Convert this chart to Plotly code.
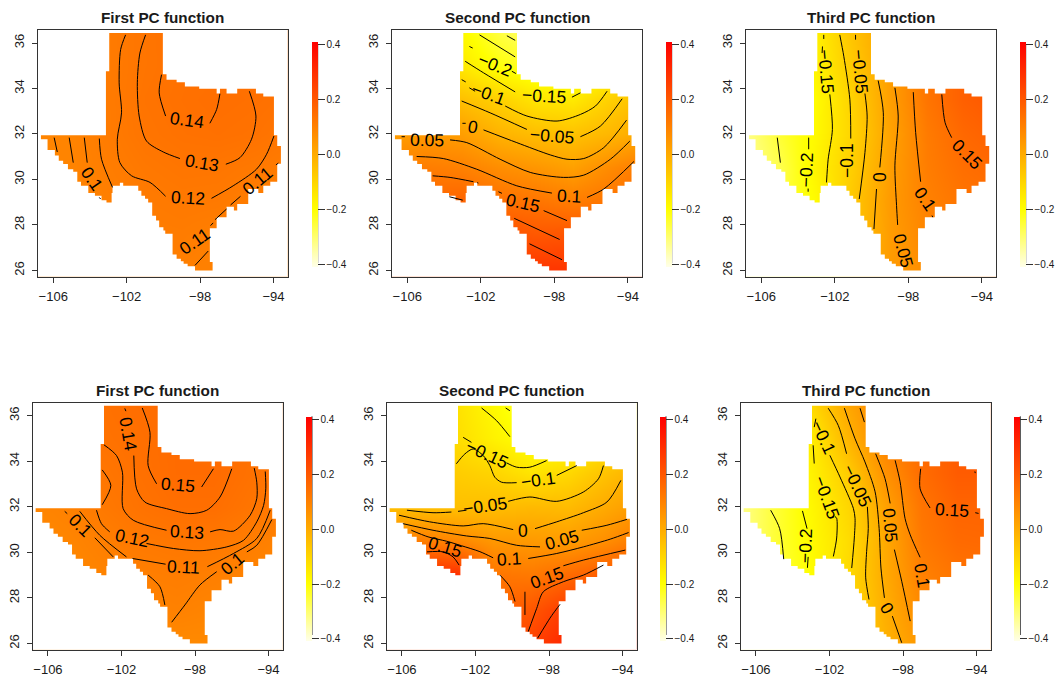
import plotly.graph_objects as go

# ---------- shared grid and ticks ----------
GRID_LON = [-107, -105, -103, -101, -99, -97, -95, -93]
GRID_LAT = [26, 27.5, 29, 30.5, 32, 33.5, 35, 36.5]
X_TICKS = [-106, -102, -98, -94]
Y_TICKS = [26, 28, 30, 32, 34, 36]
BAR_TICKS = [-0.4, -0.2, 0.0, 0.2, 0.4]
BAR_LABELS = ["\u22120.4", "\u22120.2", "0.0", "0.2", "0.4"]
TITLES = ["First PC function", "Second PC function", "Third PC function"] * 2

# Texas outline (lon, lat): walk clockwise, horizontal then vertical between vertices
TX_WALK = [(-102.95, 36.44), (-100.03, 34.63), (-99.83, 34.39), (-99.28, 34.28), (-98.83, 34.09),
           (-98.05, 33.99), (-97.1, 33.78), (-96.92, 33.99), (-96.56, 33.78), (-95.98, 33.99),
           (-94.96, 33.78), (-94.56, 33.65), (-93.98, 31.94), (-93.8, 31.47), (-93.6, 30.69),
           (-93.8, 29.90), (-94.18, 29.72), (-94.56, 29.40), (-94.83, 29.58), (-95.38, 28.92),
           (-95.98, 28.63), (-96.16, 28.80), (-96.56, 28.34), (-97.1, 28.23), (-97.1, 27.85),
           (-97.47, 26.37), (-97.32, 26.0), (-98.28, 26.18), (-98.68, 26.29), (-98.9, 26.4),
           (-99.05, 26.51), (-99.28, 26.7), (-99.5, 27.61), (-99.9, 27.75), (-100.0, 27.9),
           (-100.23, 28.2), (-100.4, 28.4), (-100.61, 28.99), (-100.83, 29.15), (-101.0, 29.28),
           (-101.2, 29.5), (-101.37, 29.72), (-102.19, 29.86), (-102.37, 29.72), (-102.77, 29.40),
           (-102.82, 28.99), (-103.1, 29.09), (-103.37, 29.28), (-103.73, 29.4), (-104.09, 29.72),
           (-104.49, 29.90), (-104.69, 30.34), (-104.91, 30.45), (-105.2, 30.68), (-105.46, 30.82),
           (-105.7, 31.05), (-105.91, 31.3), (-106.31, 31.77), (-106.67, 31.94), (-103.13, 34.76),
           (-102.95, 36.44)]

# ---------- panel 1 ----------
P1_Z = [[.09, .09, .095, .10, .105, .10, .095, .09],
        [.08, .085, .095, .11, .112, .105, .10, .095],
        [.08, .09, .105, .115, .12, .118, .108, .10],
        [.085, .095, .11, .122, .128, .127, .12, .11],
        [.09, .095, .115, .13, .137, .14, .136, .125],
        [.09, .10, .115, .133, .14, .145, .141, .135],
        [.09, .10, .115, .13, .138, .14, .14, .14],
        [.09, .10, .115, .13, .14, .14, .14, .14]]
P1_LINES = [
    [(-102.06, 36.36), (-102.33, 35.71), (-102.41, 34.25), (-102.28, 32.93), (-102.51, 31.77), (-102.37, 30.74), (-101.73, 30.16), (-100.73, 29.87), (-99.88, 29.26)],
    [(-97.38, 29.17), (-96.2, 29.72), (-94.93, 30.45), (-94.38, 31.11), (-93.98, 31.91)],
    [(-100.97, 36.36), (-101.28, 35.56), (-101.42, 34.25), (-101.32, 32.79), (-100.92, 31.69), (-100.01, 31.21), (-99.1, 30.92)],
    [(-96.6, 30.67), (-95.83, 30.96), (-95.2, 31.77), (-94.96, 32.79), (-95.32, 33.88)],
    [(-100.1, 34.61), (-100.23, 33.81), (-99.88, 32.79)],
    [(-97.47, 32.47), (-97.1, 33.08), (-96.92, 33.77)],
    [(-97.19, 28.23), (-96.56, 28.7)], [(-96.34, 28.88), (-95.8, 29.26)], [(-93.87, 30.64), (-93.74, 30.72)],
    [(-98.28, 26.22), (-97.56, 26.85)], [(-97.43, 27.97), (-97.29, 28.09)],
    [(-105.95, 31.84), (-105.78, 31.21)], [(-105.13, 31.84), (-104.91, 30.74)],
    [(-104.31, 31.84), (-104.15, 30.74)], [(-103.49, 29.21), (-103.42, 29.14)],
    [(-103.49, 31.8), (-103.37, 30.89), (-102.77, 29.65)],
]
P1_LABELS = [("0.14", -98.74, 32.61, 8), ("0.13", -97.88, 30.74, 10), ("0.12", -98.65, 29.18, 3),
             ("0.11", -94.89, 29.94, -40), ("0.11", -98.28, 27.31, -35), ("0.1", -103.88, 30.04, 55)]

# ---------- panel 2 ----------
P2_Z = [[.2, .22, .24, .26, .28, .28, .27, .26],
        [.2, .2, .22, .22, .20, .21, .22, .23],
        [.16, .16, .17, .14, .13, .11, .13, .16],
        [.10, .11, .10, .07, .05, .025, .075, .12],
        [.03, .04, .03, -.02, -.045, -.055, -.03, .01],
        [-.02, -.03, -.05, -.09, -.14, -.15, -.09, -.04],
        [-.1, -.12, -.15, -.21, -.24, -.24, -.2, -.15],
        [-.15, -.17, -.19, -.26, -.3, -.3, -.28, -.22]]
P2_LINES = [
    [(-100.58, 36.32), (-100.13, 36.12)], [(-102.07, 36.36), (-100.13, 35.39)],
    [(-102.62, 35.85), (-102.44, 35.78)], [(-100.31, 34.76), (-100.09, 34.66)],
    [(-102.85, 35.2), (-101.85, 34.69), (-100.13, 33.85)], [(-97.04, 33.62), (-96.58, 33.81)],
    [(-103.04, 34.39), (-102.82, 34.29)], [(-102.62, 34.03), (-102.31, 33.88)],
    [(-100.67, 33.23), (-99.49, 32.79), (-97.85, 32.57), (-96.58, 32.86), (-95.76, 33.23), (-95.13, 33.88)],
    [(-103.04, 33.45), (-101.49, 32.93), (-99.49, 32.2)], [(-96.58, 31.88), (-95.49, 32.35), (-94.31, 33.55)],
    [(-103.0, 32.47), (-102.82, 32.47)],
    [(-101.85, 32.18), (-100.04, 31.62), (-98.22, 31.08), (-97.31, 30.89), (-96.4, 30.92), (-95.31, 31.4), (-94.07, 32.61)],
    [(-106.31, 31.88), (-106.13, 31.88)],
    [(-103.67, 31.74), (-102.76, 31.62), (-100.95, 30.89), (-99.31, 30.31), (-97.49, 30.09), (-96.4, 30.19), (-94.95, 30.89), (-93.89, 31.69)],
    [(-105.49, 31.01), (-104.04, 30.92), (-102.22, 30.45), (-100.04, 29.72), (-98.13, 29.4)],
    [(-96.22, 29.21), (-95.31, 29.58), (-93.67, 30.79)],
    [(-104.62, 30.16), (-103.67, 30.09), (-102.4, 29.9)], [(-102.2, 29.86), (-102.13, 29.84)],
    [(-101.04, 29.46), (-100.85, 29.39)], [(-98.58, 28.63), (-97.31, 28.19)],
    [(-103.71, 29.24), (-102.98, 29.09)],
    [(-100.18, 28.29), (-97.71, 27.36)], [(-99.35, 27.17), (-97.58, 26.47)],
]
P2_LABELS = [("\u22120.2", -101.22, 35.05, 22), ("\u22120.15", -98.58, 33.66, 3), ("\u22120.1", -101.58, 33.74, 20),
             ("0", -102.4, 32.31, 10), ("\u22120.05", -98.13, 31.91, 5), ("0.05", -104.95, 31.74, 1),
             ("0.1", -97.22, 29.28, 3), ("0.15", -99.71, 28.96, 13)]

# ---------- panel 3 ----------
P3_Z = [[-.3, -.26, -.19, -.06, .04, .07, .1, .12],
        [-.3, -.26, -.19, -.06, .035, .09, .12, .13],
        [-.32, -.26, -.19, -.065, .04, .10, .13, .14],
        [-.34, -.27, -.17, -.08, .03, .11, .145, .16],
        [-.33, -.245, -.185, -.095, .02, .115, .16, .18],
        [-.33, -.25, -.19, -.09, .03, .13, .18, .2],
        [-.33, -.25, -.17, -.07, .03, .13, .18, .2],
        [-.33, -.25, -.165, -.055, .03, .13, .18, .2]]
P3_LINES = [
    [(-105.13, 31.84), (-104.96, 30.74)], [(-103.42, 31.84), (-103.42, 31.33)], [(-103.45, 29.6), (-103.45, 29.46)],
    [(-102.6, 36.36), (-102.6, 36.18)], [(-102.67, 35.85), (-102.69, 35.56)],
    [(-102.27, 33.74), (-102.13, 32.2), (-102.36, 30.89), (-102.45, 29.87)],
    [(-101.73, 36.36), (-101.51, 35.42), (-101.18, 33.52), (-101.13, 31.8)],
    [(-100.87, 36.36), (-100.87, 36.15)], [(-100.36, 33.78), (-100.24, 32.79), (-100.36, 31.18), (-100.67, 29.14)],
    [(-99.64, 34.35), (-99.36, 32.93), (-99.55, 30.53)], [(-99.73, 29.58), (-99.87, 27.82)],
    [(-98.73, 34.03), (-98.55, 32.79), (-98.73, 30.6), (-98.64, 28.85), (-98.58, 28.0)],
    [(-97.73, 33.84), (-97.6, 32.06), (-97.33, 29.9)], [(-96.71, 28.41), (-96.67, 28.34)],
    [(-96.18, 33.74), (-96.0, 32.5), (-95.64, 31.84)],
]
P3_LABELS = [("\u22120.2", -103.55, 30.42, -88), ("\u22120.15", -102.49, 34.76, 85), ("\u22120.1", -101.33, 30.82, -90),
             ("\u22120.05", -100.64, 34.76, 85), ("0", -99.64, 30.09, 90), ("0.05", -98.31, 26.88, 75),
             ("0.1", -97.09, 29.14, 55), ("0.15", -94.82, 31.11, 45)]

# ---------- panel 4 ----------
P4_Z = [[.07, .07, .075, .08, .08, .08, .08, .075],
        [.07, .075, .085, .095, .10, .092, .085, .08],
        [.07, .08, .095, .105, .11, .105, .095, .085],
        [.08, .09, .105, .12, .125, .122, .11, .095],
        [.09, .10, .12, .135, .145, .145, .13, .115],
        [.09, .105, .127, .14, .152, .152, .138, .125],
        [.09, .11, .135, .143, .152, .15, .14, .13],
        [.09, .11, .138, .148, .152, .15, .14, .13]]
P4_LINES = [
    [(-100.87, 36.34), (-100.45, 35.27), (-100.55, 33.81), (-100.09, 33.01)], [(-97.64, 32.87), (-97.0, 33.67)],
    [(-101.82, 36.32), (-101.76, 36.2)],
    [(-101.33, 34.25), (-101.18, 32.79), (-100.73, 32.21), (-99.55, 31.92), (-98.27, 31.7), (-97.36, 31.85), (-96.64, 32.43), (-96.0, 33.67)],
    [(-102.95, 34.72), (-102.27, 34.25), (-101.95, 33.52), (-101.91, 31.92), (-101.36, 31.41), (-99.55, 30.97)],
    [(-97.18, 30.9), (-96.64, 31.0), (-95.91, 30.93), (-95.0, 31.63), (-94.64, 32.36), (-94.64, 33.08), (-94.78, 33.7)],
    [(-103.05, 33.62), (-102.58, 32.94), (-103.05, 32.09)],
    [(-103.36, 31.85), (-103.09, 31.26), (-102.64, 30.9)],
    [(-100.64, 30.39), (-99.18, 30.17), (-97.73, 30.07), (-96.27, 30.24), (-95.36, 30.53), (-94.64, 31.34), (-94.27, 32.06), (-94.15, 32.79), (-94.18, 33.55)],
    [(-104.27, 31.8), (-103.18, 30.75), (-101.73, 29.8)], [(-101.4, 29.73), (-99.6, 29.48)],
    [(-97.33, 29.37), (-95.91, 29.95), (-94.64, 30.61), (-93.91, 31.85)],
    [(-105.09, 31.8), (-104.95, 31.7)], [(-103.45, 30.64), (-102.45, 29.8)],
    [(-95.18, 30.02), (-94.64, 30.31), (-93.82, 31.44)],
    [(-96.82, 29.15), (-97.73, 28.57), (-98.55, 27.69), (-99.27, 26.93)],
    [(-100.55, 29.0), (-99.91, 28.49), (-99.64, 27.69)],
]
P4_LABELS = [("0.15", -98.91, 32.94, 5), ("0.14", -101.64, 35.2, 80), ("0.13", -98.45, 30.9, 3),
             ("0.12", -101.45, 30.61, 12), ("0.11", -98.64, 29.37, 3), ("0.1", -104.27, 31.19, 45),
             ("0.1", -96.0, 29.51, -40)]

# ---------- panel 5 ----------
P5_Z = [[.25, .25, .25, .25, .25, .32, .32, .32],
        [.25, .25, .25, .16, .2, .27, .27, .27],
        [.3, .3, .3, .13, .12, .155, .19, .22],
        [.1, .11, .085, .045, .04, .035, .065, .12],
        [-.05, -.05, -.05, -.045, -.035, -.04, 0.0, .04],
        [-.1, -.1, -.08, -.1, -.14, -.11, -.06, -.01],
        [-.12, -.12, -.12, -.17, -.21, -.2, -.15, -.1],
        [-.13, -.13, -.13, -.19, -.25, -.25, -.2, -.15]]
P5_LINES = [
    [(-100.36, 36.34), (-100.13, 36.22)], [(-101.67, 36.34), (-100.85, 35.78), (-100.13, 35.08)],
    [(-102.67, 35.05), (-102.22, 34.83)], [(-100.31, 33.93), (-99.76, 33.74), (-99.04, 33.74), (-98.13, 34.03)],
    [(-103.04, 33.89), (-102.58, 34.32), (-102.13, 34.54), (-101.58, 34.25), (-101.22, 33.81), (-100.95, 33.3), (-100.58, 33.08), (-99.76, 33.06)],
    [(-97.58, 33.38), (-96.49, 33.81)],
    [(-105.73, 31.85), (-104.31, 31.74), (-103.31, 31.77)], [(-102.95, 31.8), (-102.49, 31.85)],
    [(-100.22, 32.24), (-99.04, 32.43), (-97.58, 32.24), (-96.13, 32.65), (-95.31, 33.23), (-95.04, 33.81)],
    [(-106.16, 31.63), (-104.49, 31.34), (-102.67, 31.16), (-101.58, 31.26), (-99.95, 31.0)],
    [(-98.76, 31.04), (-97.58, 31.34), (-96.13, 31.74), (-94.85, 32.21), (-94.09, 33.16)],
    [(-105.95, 31.26), (-104.31, 30.97), (-102.49, 30.72), (-101.22, 30.61), (-99.76, 30.31), (-98.49, 30.24)],
    [(-96.22, 30.97), (-94.85, 31.19), (-93.76, 31.45)],
    [(-105.49, 30.97), (-104.58, 30.68), (-103.58, 30.49), (-102.76, 30.29), (-101.76, 30.03), (-101.04, 29.76)],
    [(-99.13, 29.73), (-97.58, 29.95), (-96.13, 30.24), (-94.67, 30.58), (-93.67, 30.87)],
    [(-104.64, 30.02), (-103.76, 30.02), (-103.22, 29.8), (-102.89, 29.44)],
    [(-100.67, 29.0), (-100.13, 28.49), (-99.85, 27.84)], [(-99.31, 27.25), (-99.31, 28.27)],
    [(-97.22, 29.41), (-96.13, 29.66), (-93.85, 30.1)],
    [(-99.13, 26.52), (-98.67, 27.54), (-98.31, 28.27), (-97.22, 28.71), (-96.13, 29.0), (-95.04, 29.44)],
    [(-98.62, 26.23), (-97.95, 27.11), (-97.76, 27.33), (-97.4, 27.72)],
]
P5_LABELS = [("\u22120.15", -101.4, 34.32, 25), ("\u22120.1", -98.58, 33.16, -8), ("\u22120.05", -101.49, 32.03, -8),
             ("0", -99.4, 30.94, 0), ("0.05", -97.31, 30.53, -15), ("0.1", -100.16, 29.7, -3),
             ("0.15", -103.67, 30.24, 17), ("0.15", -98.13, 28.86, -20)]

# ---------- panel 6 ----------
P6_Z = [[-.3, -.26, -.2, -.12, -.02, .05, .09, .11],
        [-.3, -.26, -.2, -.12, -.01, .08, .11, .12],
        [-.32, -.26, -.2, -.115, .0, .10, .13, .14],
        [-.33, -.25, -.19, -.12, .0, .12, .155, .16],
        [-.33, -.25, -.185, -.105, .02, .13, .17, .17],
        [-.33, -.25, -.17, -.08, .06, .15, .19, .19],
        [-.33, -.25, -.16, -.025, .10, .15, .19, .19],
        [-.33, -.25, -.11, .01, .10, .15, .19, .19]]
P6_LINES = [
    [(-105.2, 31.85), (-104.71, 31.04), (-104.49, 29.7)],
    [(-103.47, 31.82), (-103.22, 31.04)], [(-103.16, 29.8), (-103.2, 29.32)],
    [(-102.89, 34.7), (-102.83, 33.9)], [(-101.70, 31.57), (-101.61, 31.5), (-101.61, 30.63), (-101.79, 29.82)],
    [(-102.74, 35.87), (-102.83, 35.5)],
    [(-101.98, 34.26), (-101.43, 33.31), (-100.7, 31.93), (-100.61, 31.49), (-100.65, 30.63), (-100.79, 29.31)],
    [(-102.07, 36.33), (-101.52, 35.57), (-101.07, 34.33)],
    [(-99.94, 32.0), (-99.89, 31.05), (-99.98, 30.04), (-100.03, 28.88), (-99.85, 27.93)],
    [(-101.19, 36.33), (-100.61, 34.99), (-100.07, 33.97), (-99.52, 32.66), (-99.3, 31.05), (-99.2, 29.31), (-99.01, 28.0)],
    [(-98.58, 27.2), (-98.07, 26.03)],
    [(-100.34, 36.33), (-100.10, 35.72)], [(-99.49, 34.33), (-98.98, 33.24), (-98.7, 32.15)],
    [(-98.47, 30.12), (-98.07, 28.73), (-97.61, 26.98)],
    [(-98.43, 34.04), (-98.16, 33.1), (-97.89, 31.49), (-97.61, 30.77), (-97.07, 29.78)], [(-96.68, 28.7), (-96.62, 28.64)],
    [(-97.04, 33.67), (-97.07, 32.79), (-96.53, 31.95)], [(-94.07, 31.74), (-93.89, 31.71)], [(-94.09, 33.55), (-94.07, 33.48)],
]
P6_LABELS = [("\u22120.2", -103.29, 30.31, -88), ("\u22120.15", -102.16, 32.43, 70), ("\u22120.1", -102.35, 35.05, 65),
             ("\u22120.05", -100.53, 32.94, 65), ("0", -98.89, 27.55, 60), ("0.05", -98.71, 31.19, 85),
             ("0.1", -96.98, 29.0, 80), ("0.15", -95.35, 31.85, 3)]

ALL_Z = [P1_Z, P2_Z, P3_Z, P4_Z, P5_Z, P6_Z]
ALL_LINES = [P1_LINES, P2_LINES, P3_LINES, P4_LINES, P5_LINES, P6_LINES]
ALL_LABELS = [P1_LABELS, P2_LABELS, P3_LABELS, P4_LABELS, P5_LABELS, P6_LABELS]

# ---------- layout constants (pixels in the 1058 x 677 page) ----------
W, H = 1058, 677
X_RANGE = [-106.83, -93.23]
Y_RANGE = [25.72, 36.58]
FRAMES = [(38, 287.7, 30, 278), (392, 642, 30, 278), (746, 996, 30, 278),
          (32.7, 282.7, 404.3, 652.7), (386.7, 636.7, 404.3, 652.7), (740.7, 990.7, 404.3, 652.7)]
BARS = [(311.7, 42, 266.7), (665.7, 42, 266.7), (1019.7, 42, 266.7),
        (306, 416, 640.3), (660, 416, 640.3), (1014.3, 416, 640.3)]
BAR_NUDGE = [1.5, 1.5, 1.5, 4, 4, 4]
TITLE_Y = [17.7, 17.7, 17.7, 392.5, 392.5, 392.5]
BAR_W = 6
ZMIN, ZMAX = -0.409, 0.408
COLORSCALE = [[0, "#ffffe8"], [(-0.2 - ZMIN) / (ZMAX - ZMIN), "#ffff00"], [1, "#ff0000"]]
FONT = "Liberation Sans"
INK = "#1a1a1a"


def mask_path():
    """White sheet with a Texas-shaped hole: outer edge counter-clockwise, hole clockwise."""
    x0, x1, y0, y1 = X_RANGE[0] - 1, X_RANGE[1] + 1, Y_RANGE[0] - 1, Y_RANGE[1] + 1
    sx, sy = TX_WALK[0]
    xs = [sx, x0, x0, x1, x1, sx, sx]
    ys = [y1, y1, y0, y0, y1, y1, sy]
    cy = sy
    for nx, ny in TX_WALK[1:]:
        xs += [nx, nx]
        ys += [cy, ny]
        cy = ny
    xs.append(sx)
    ys.append(y1)
    return xs, ys


fig = go.Figure()
layout = dict(width=W, height=H, margin=dict(l=0, r=0, t=0, b=0), autosize=False,
              paper_bgcolor="white", plot_bgcolor="white", showlegend=False,
              font=dict(family=FONT, color=INK))
annots, shapes = [], []
mx, my = mask_path()

for i in range(6):
    n = "" if i == 0 else str(i + 1)
    xa, ya = "x" + n, "y" + n
    L, R, T, B = FRAMES[i]
    bar_l, bar_t, bar_b = BARS[i]
    fig.add_trace(go.Heatmap(
        x=GRID_LON, y=GRID_LAT, z=ALL_Z[i], zsmooth="best", xaxis=xa, yaxis=ya,
        zmin=ZMIN, zmax=ZMAX, colorscale=COLORSCALE, hoverinfo="skip",
        colorbar=dict(x=bar_l / W, xanchor="left", xpad=0, ypad=0,
                      y=1 - (bar_b + BAR_NUDGE[i]) / H, yanchor="bottom", lenmode="pixels", len=bar_b - bar_t,
                      thicknessmode="pixels", thickness=BAR_W, outlinewidth=0, borderwidth=0,
                      tickmode="array", tickvals=BAR_TICKS, ticktext=BAR_LABELS, ticks="outside",
                      ticklen=7, tickwidth=1, tickcolor="#333333",
                      tickfont=dict(family=FONT, size=10, color=INK))))
    fig.add_trace(go.Scatter(x=mx, y=my, mode="lines", line=dict(width=0, color="white"), fill="toself",
                             fillcolor="white", xaxis=xa, yaxis=ya, hoverinfo="skip"))
    lx, ly = [], []
    for seg in ALL_LINES[i]:
        lx += [p[0] for p in seg] + [None]
        ly += [p[1] for p in seg] + [None]
    fig.add_trace(go.Scatter(x=lx, y=ly, mode="lines", line=dict(color="black", width=1, shape="spline", smoothing=0.8),
                             xaxis=xa, yaxis=ya, hoverinfo="skip"))
    common = dict(showgrid=False, zeroline=False, mirror=True, showline=True, linecolor="#333333", linewidth=1,
                  ticks="outside", ticklen=5, tickwidth=1, tickcolor="#333333",
                  tickfont=dict(family=FONT, size=13, color=INK))
    layout["xaxis" + n] = dict(domain=[L / W, R / W], range=X_RANGE, anchor=ya, tickvals=X_TICKS,
                               ticklabelstandoff=3, **common)
    layout["yaxis" + n] = dict(domain=[1 - B / H, 1 - T / H], range=Y_RANGE, anchor=xa, tickvals=Y_TICKS,
                               tickangle=-90, ticklabelstandoff=3, **common)
    annots.append(dict(text="<b>%s</b>" % TITLES[i], x=(L + R) / 2 / W, y=1 - TITLE_Y[i] / H, xref="paper", yref="paper",
                       showarrow=False, xanchor="center", yanchor="middle",
                       font=dict(family=FONT, size=15.3, color=INK)))
    for text, lon, lat, ang in ALL_LABELS[i]:
        annots.append(dict(text=text, x=lon, y=lat, xref=xa, yref=ya, showarrow=False, textangle=ang,
                           xanchor="center", yanchor="middle", font=dict(family=FONT, size=17.5, color="black")))
    # right-hand axis line of the colour strip, between its end ticks
    px_per = (bar_b - bar_t) / (ZMAX - ZMIN)
    shapes.append(dict(type="line", xref="paper", yref="paper", x0=(bar_l + BAR_W) / W, x1=(bar_l + BAR_W) / W,
                       y0=1 - (bar_t + (ZMAX - 0.4) * px_per) / H, y1=1 - (bar_b - (-0.4 - ZMIN) * px_per) / H,
                       line=dict(color="#333333", width=1)))

layout["annotations"] = annots
layout["shapes"] = shapes
fig.update_layout(**layout)
fig.write_html("out.html", config={"displayModeBar": False}, post_script="document.body.style.margin='0';")
